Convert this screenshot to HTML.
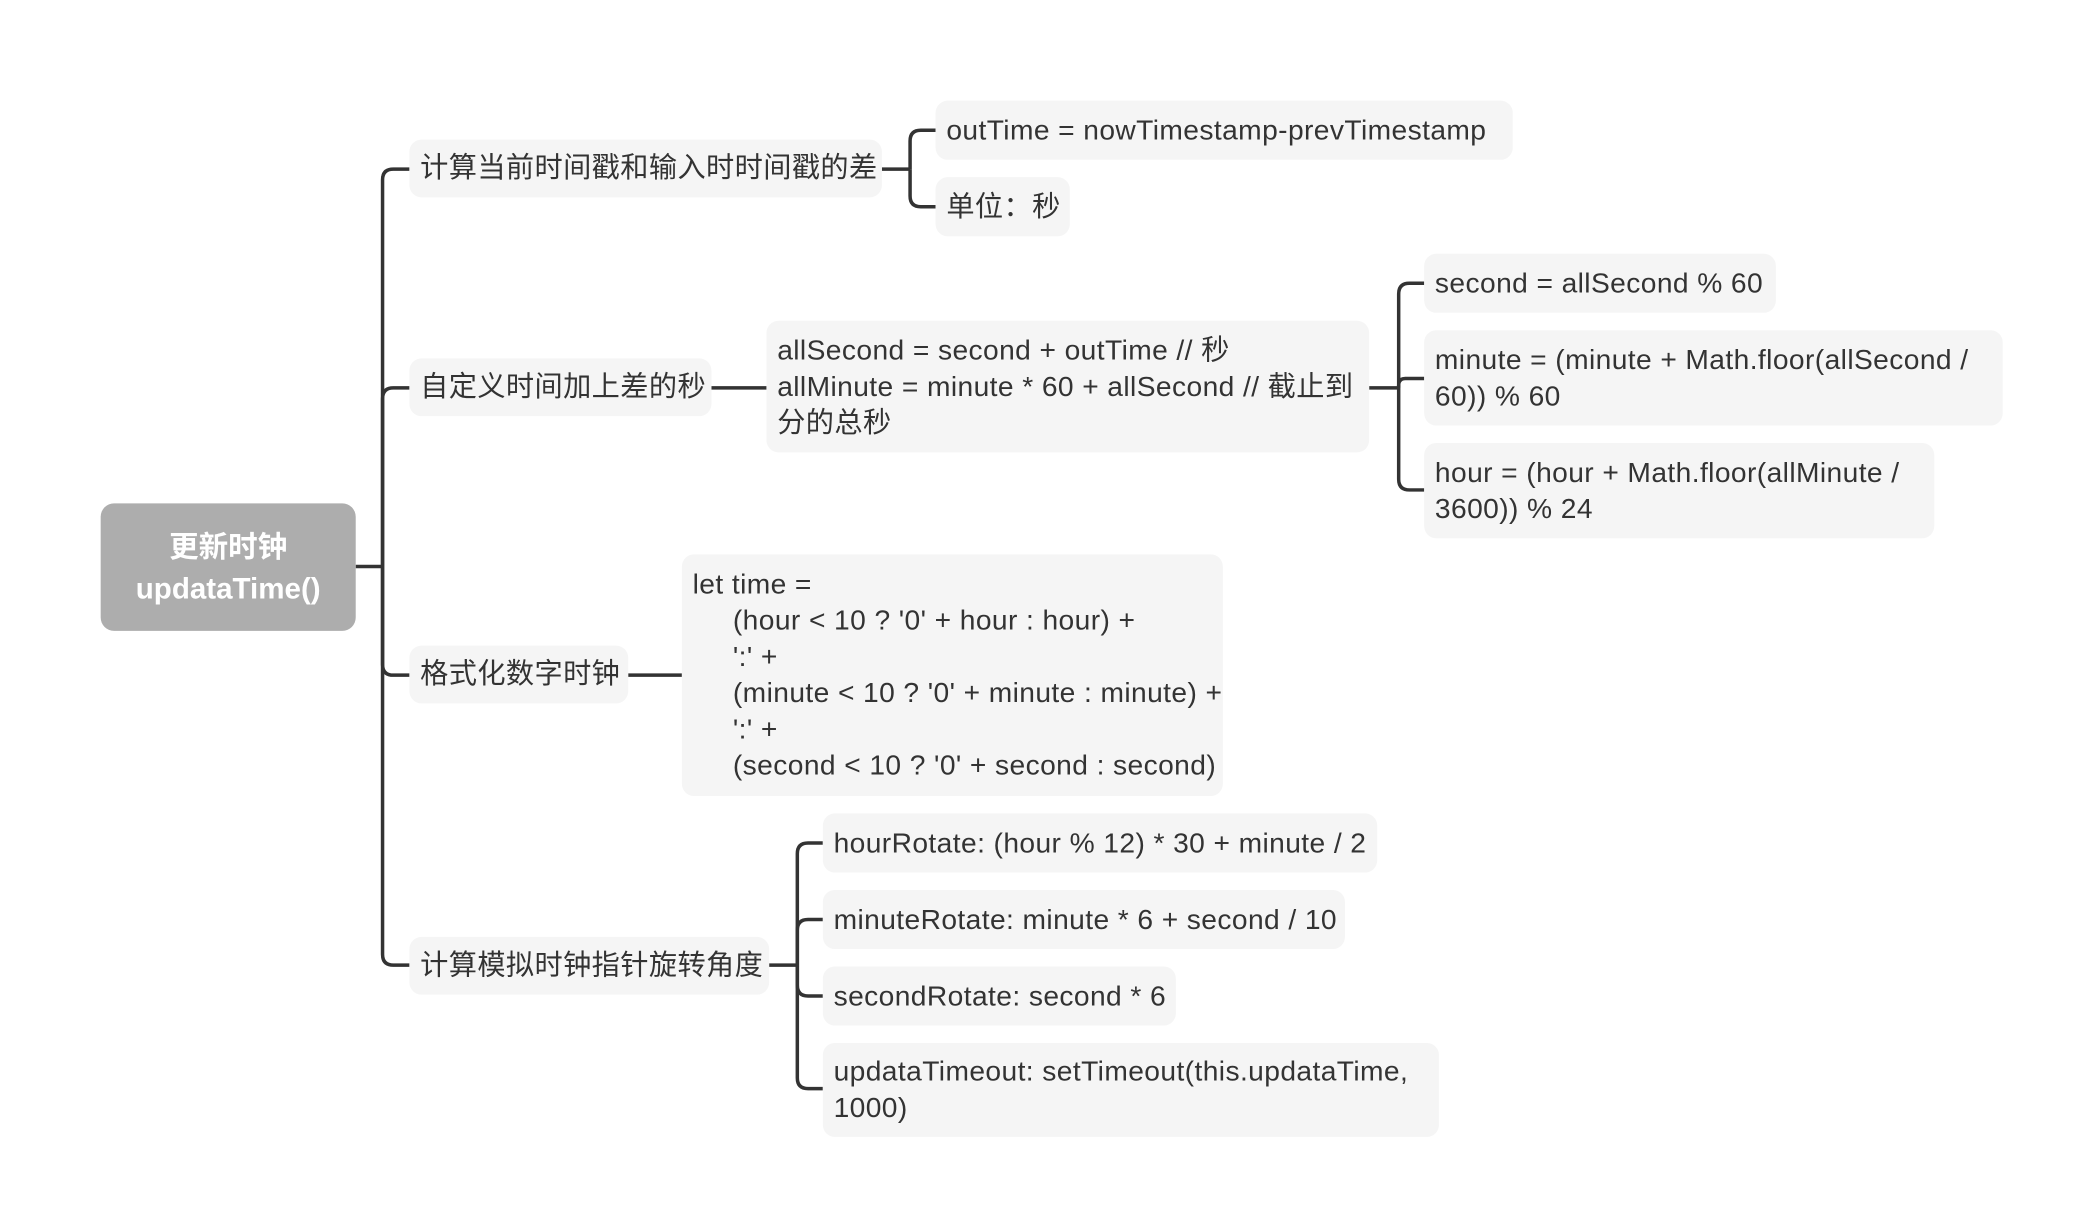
<!DOCTYPE html>
<html><head><meta charset="utf-8"><style>
html,body{margin:0;padding:0;background:#fff;width:2094px;height:1232px;overflow:hidden}
#c{position:absolute;left:0;top:0;width:1560px;height:918px;transform:scale(1.3423);transform-origin:0 0}
.n{position:absolute;background:#f5f5f5;border-radius:9px;color:#333;font-family:"Liberation Sans","Noto Sans CJK SC",sans-serif;font-size:21px;letter-spacing:0.3px;line-height:27px;white-space:nowrap;box-sizing:border-box;padding:0 8px;display:flex;flex-direction:column;justify-content:center}
.r{position:absolute;left:75px;top:375px;width:190px;height:95px;background:#adadad;border-radius:10px;color:#fff;font-family:"Liberation Sans","Noto Sans CJK SC",sans-serif;font-weight:bold;font-size:22px;line-height:31px;text-align:center;display:flex;flex-direction:column;justify-content:center}
svg{position:absolute;left:0;top:0}
</style></head><body><div id="c">
<svg width="1560" height="918"><g fill="none" stroke="#333" stroke-width="2.6">
<path d="M265,422 H285"/>
<path d="M285,422 V134 Q285,126 293,126 H305"/>
<path d="M285,422 V297 Q285,289 293,289 H305"/>
<path d="M285,422 V495 Q285,503 293,503 H305"/>
<path d="M285,422 V711 Q285,719 293,719 H305"/>
<path d="M657,126 H678"/>
<path d="M678,126 V105 Q678,97 686,97 H697"/>
<path d="M678,126 V146 Q678,154 686,154 H697"/>
<path d="M530,289 H571"/>
<path d="M1020,289 H1042"/>
<path d="M1042,289 V219 Q1042,211 1050,211 H1061"/>
<path d="M1042,289 V287 Q1042,282 1047,282 H1061"/>
<path d="M1042,289 V357 Q1042,365 1050,365 H1061"/>
<path d="M468,503 H508"/>
<path d="M573,719 H594"/>
<path d="M594,719 V636 Q594,628 602,628 H613"/>
<path d="M594,719 V693 Q594,685 602,685 H613"/>
<path d="M594,719 V734 Q594,742 602,742 H613"/>
<path d="M594,719 V803 Q594,811 602,811 H613"/>
</g></svg>
<div class="r"><div>更新时钟</div><div>updataTime()</div></div>
<div class="n" style="left:305px;top:104px;width:352px;height:43px">计算当前时间戳和输入时时间戳的差</div>
<div class="n" style="left:305px;top:267px;width:225px;height:43px">自定义时间加上差的秒</div>
<div class="n" style="left:305px;top:481px;width:163px;height:43px">格式化数字时钟</div>
<div class="n" style="left:305px;top:698px;width:268px;height:43px">计算模拟时钟指针旋转角度</div>
<div class="n" style="left:697px;top:75px;width:430px;height:44px">outTime = nowTimestamp-prevTimestamp</div>
<div class="n" style="left:697px;top:132px;width:100px;height:44px">单位：秒</div>
<div class="n" style="left:571px;top:239px;width:449px;height:98px"><div>allSecond = second + outTime // 秒</div><div>allMinute = minute * 60 + allSecond // 截止到</div><div>分的总秒</div></div>
<div class="n" style="left:1061px;top:189px;width:262px;height:44px">second = allSecond % 60</div>
<div class="n" style="left:1061px;top:246px;width:431px;height:71px"><div>minute = (minute + Math.floor(allSecond /</div><div>60)) % 60</div></div>
<div class="n" style="left:1061px;top:330px;width:380px;height:71px"><div>hour = (hour + Math.floor(allMinute /</div><div>3600)) % 24</div></div>
<div class="n" style="left:508px;top:413px;width:403px;height:180px"><div>let time =</div><div style="padding-left:30px">(hour &lt; 10 ? '0' + hour : hour) +</div><div style="padding-left:30px">':' +</div><div style="padding-left:30px">(minute &lt; 10 ? '0' + minute : minute) +</div><div style="padding-left:30px">':' +</div><div style="padding-left:30px">(second &lt; 10 ? '0' + second : second)</div></div>
<div class="n" style="left:613px;top:606px;width:413px;height:44px">hourRotate: (hour % 12) * 30 + minute / 2</div>
<div class="n" style="left:613px;top:663px;width:389px;height:44px">minuteRotate: minute * 6 + second / 10</div>
<div class="n" style="left:613px;top:720px;width:263px;height:44px">secondRotate: second * 6</div>
<div class="n" style="left:613px;top:777px;width:459px;height:70px"><div>updataTimeout: setTimeout(this.updataTime,</div><div>1000)</div></div>
</div></body></html>
